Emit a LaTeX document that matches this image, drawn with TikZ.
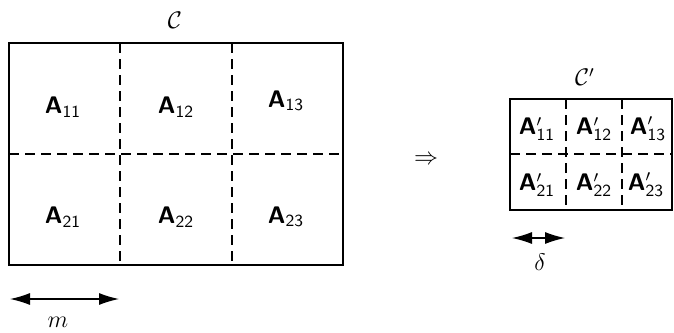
\documentclass[tikz,border=0pt]{standalone}
\usetikzlibrary{arrows.meta}
\newcommand{\subsf}[1]{_{\mbox{\fontsize{8.5}{9}\selectfont\sffamily #1}}}
\begin{document}
\begin{tikzpicture}[x=0.5pt,y=-0.5pt,
  frame/.style={line width=0.6pt},
  grid/.style={line width=0.6pt,dash pattern=on 5pt off 3pt},
  lbl/.style={font=\large\sffamily},
  mlbl/.style={font=\large},
  dim/.style={line width=0.6pt,{Latex[length=10pt,width=6pt]}-{Latex[length=10pt,width=6pt]}}]
\useasboundingbox (0,0) rectangle (674,332);
% big box
\draw[frame] (9,43) rectangle (343,265);
\coordinate (bt1) at (120,43); \coordinate (bb1) at (120,265);
\coordinate (bt2) at (232,43); \coordinate (bb2) at (232,265);
\coordinate (bl) at (9,154); \coordinate (br) at (343,154);
\draw[grid] (bt1) -- (bb1);
\draw[grid] (bt2) -- (bb2);
\draw[grid] (bl) -- (br);
\node[mlbl] (C) at (175,20) {$\mathcal{C}$};
\node[lbl] (a11) at (63,107) {\textbf{A}$\subsf{11}$};
\node[lbl] (a12) at (176,107) {\textbf{A}$\subsf{12}$};
\node[lbl] (a13) at (286,101) {\textbf{A}$\subsf{13}$};
\node[lbl] (a21) at (63,217) {\textbf{A}$\subsf{21}$};
\node[lbl] (a22) at (176,217) {\textbf{A}$\subsf{22}$};
\node[lbl] (a23) at (286,217) {\textbf{A}$\subsf{23}$};
\coordinate (m1) at (10,299); \coordinate (m2) at (119,299);
\draw[dim] (m1) -- (m2);
\node[mlbl] (m) at (58,322) {$m$};
% implies
\node[mlbl] (imp) at (426,160) {$\Rightarrow$};
% small box
\draw[frame] (510,99) rectangle (672,210);
\coordinate (st1) at (566,99); \coordinate (sb1) at (566,210);
\coordinate (st2) at (622,99); \coordinate (sb2) at (622,210);
\coordinate (sl) at (510,154); \coordinate (sr) at (672,154);
\draw[grid] (st1) -- (sb1);
\draw[grid] (st2) -- (sb2);
\draw[grid] (sl) -- (sr);
\node[mlbl] (Cp) at (585,77) {$\mathcal{C}'$};
\node[lbl] (b11) at (537,129) {\textbf{A}$'\subsf{11}$};
\node[lbl] (b12) at (594,129) {\textbf{A}$'\subsf{12}$};
\node[lbl] (b13) at (648,129) {\textbf{A}$'\subsf{13}$};
\node[lbl] (b21) at (537,185) {\textbf{A}$'\subsf{21}$};
\node[lbl] (b22) at (594,185) {\textbf{A}$'\subsf{22}$};
\node[lbl] (b23) at (646,185) {\textbf{A}$'\subsf{23}$};
\coordinate (d1) at (512,238); \coordinate (d2) at (565,238);
\draw[dim] (d1) -- (d2);
\node[mlbl] (delta) at (540,262) {$\delta$};
\end{tikzpicture}
\end{document}
